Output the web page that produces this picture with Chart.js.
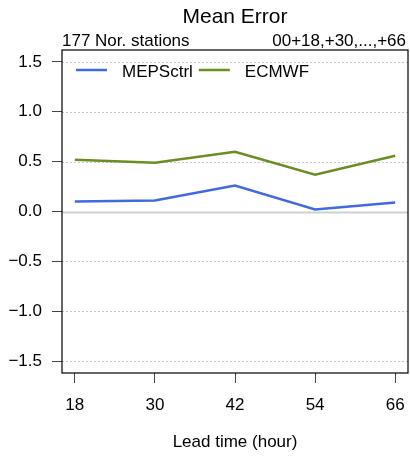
<!DOCTYPE html>
<html>
<head>
<meta charset="utf-8">
<script src="https://cdn.jsdelivr.net/npm/chart.js@4"></script>
<style>
  html, body { margin: 0; padding: 0; background: #fff; }
  #wrap { width: 410px; height: 459px; }
</style>
</head>
<body>
<div id="wrap"><canvas id="meanErrorChart" width="410" height="459"></canvas></div>
<script>
const leadTimes = [18, 30, 42, 54, 66];
const mepsValues = [0.10, 0.11, 0.26, 0.02, 0.09];
const ecmwfValues = [0.52, 0.49, 0.60, 0.37, 0.56];
const yTicks = [-1.5, -1.0, -0.5, 0.0, 0.5, 1.0, 1.5];
const seriesNames = ['MEPSctrl', 'ECMWF'];

const FONT = '"Liberation Sans", Arial, Helvetica, sans-serif';

// grid lines, zero line, box, legend and header texts
const framePlugin = {
    id: 'frame',
    beforeDatasetsDraw(chart) {
        const { ctx, chartArea: a, scales } = chart;
        ctx.save();
        yTicks.forEach(v => {
            const y = Math.round(scales.y.getPixelForValue(v)) + 0.5;
            ctx.beginPath();
            if (v === 0) {
                ctx.setLineDash([]);
                ctx.strokeStyle = '#d0d0d0';
                ctx.lineWidth = 2;
            } else {
                ctx.setLineDash([2, 2]);
                ctx.strokeStyle = '#c8c8c8';
                ctx.lineWidth = 1;
            }
            ctx.moveTo(a.left, y);
            ctx.lineTo(a.right, y);
            ctx.stroke();
        });
        ctx.restore();
    },
    afterDraw(chart) {
        const { ctx, chartArea: a } = chart;
        ctx.save();
        ctx.strokeStyle = '#000';
        ctx.lineWidth = 1.2;
        ctx.strokeRect(a.left, a.top, a.right - a.left, a.bottom - a.top);

        ctx.fillStyle = '#000';
        ctx.textBaseline = 'alphabetic';
        ctx.font = '21px ' + FONT;
        ctx.textAlign = 'center';
        ctx.fillText('Mean Error', (a.left + a.right) / 2, 23);

        ctx.font = '17px ' + FONT;
        ctx.textAlign = 'left';
        ctx.fillText('177 Nor. stations', a.left, 46);
        ctx.textAlign = 'right';
        ctx.fillText('00+18,+30,...,+66', a.right - 2, 46);

        ctx.textAlign = 'center';
        ctx.fillText('Lead time (hour)', (a.left + a.right) / 2, 447);

        // legend
        ctx.textAlign = 'left';
        let x = a.left + 14;
        const ly = a.top + 20;
        chart.data.datasets.forEach(ds => {
            ctx.beginPath();
            ctx.strokeStyle = ds.borderColor;
            ctx.lineWidth = ds.borderWidth;
            ctx.moveTo(x, ly);
            ctx.lineTo(x + 31, ly);
            ctx.stroke();
            ctx.fillText(ds.label, x + 46, ly + 7);
            x += 46 + ctx.measureText(ds.label).width + 6;
        });
        ctx.restore();
    }
};

Chart.defaults.font.family = FONT;
Chart.defaults.color = '#000';

const ctx = document.getElementById('meanErrorChart').getContext('2d');
const meanErrorChart = new Chart(ctx, {
    type: 'line',
    data: {
        labels: leadTimes,
        datasets: [{
            label: seriesNames[0],
            data: leadTimes.map((x, i) => ({ x: x, y: mepsValues[i] })),
            borderColor: '#4169e1',
            backgroundColor: '#4169e1',
            borderWidth: 2.5,
            pointRadius: 0,
            tension: 0
        }, {
            label: seriesNames[1],
            data: leadTimes.map((x, i) => ({ x: x, y: ecmwfValues[i] })),
            borderColor: '#6b8e23',
            backgroundColor: '#6b8e23',
            borderWidth: 2.5,
            pointRadius: 0,
            tension: 0
        }]
    },
    options: {
        responsive: false,
        animation: false,
        layout: {
            padding: { top: 50, right: 2, left: 0, bottom: 0 }
        },
        plugins: {
            title: { display: false },
            tooltip: { enabled: false },
            legend: { display: false }
        },
        scales: {
            x: {
                type: 'linear',
                min: 16.08,
                max: 67.92,
                afterBuildTicks: s => { s.ticks = leadTimes.map(v => ({ value: v })); },
                afterFit: s => {
                    s.height = 86;
                    s.paddingLeft = 0;
                    s.paddingRight = 0;
                },
                border: { display: false },
                grid: {
                    drawOnChartArea: false,
                    drawTicks: true,
                    tickLength: 10,
                    tickColor: '#444',
                    tickWidth: 1
                },
                ticks: {
                    padding: 12,
                    maxRotation: 0,
                    font: { size: 17 },
                    color: '#000'
                }
            },
            y: {
                min: -1.62,
                max: 1.62,
                afterBuildTicks: s => { s.ticks = yTicks.map(v => ({ value: v })); },
                afterFit: s => {
                    s.width = 62;
                    s.paddingTop = 0;
                    s.paddingBottom = 0;
                },
                border: { display: false },
                grid: {
                    drawOnChartArea: false,
                    drawTicks: true,
                    tickLength: 10,
                    tickColor: '#444',
                    tickWidth: 1
                },
                ticks: {
                    padding: 10,
                    font: { size: 17 },
                    color: '#000',
                    callback: v => v.toFixed(1).replace('-', '\u2212')
                }
            }
        }
    },
    plugins: [framePlugin]
});
</script>
</body>
</html>
